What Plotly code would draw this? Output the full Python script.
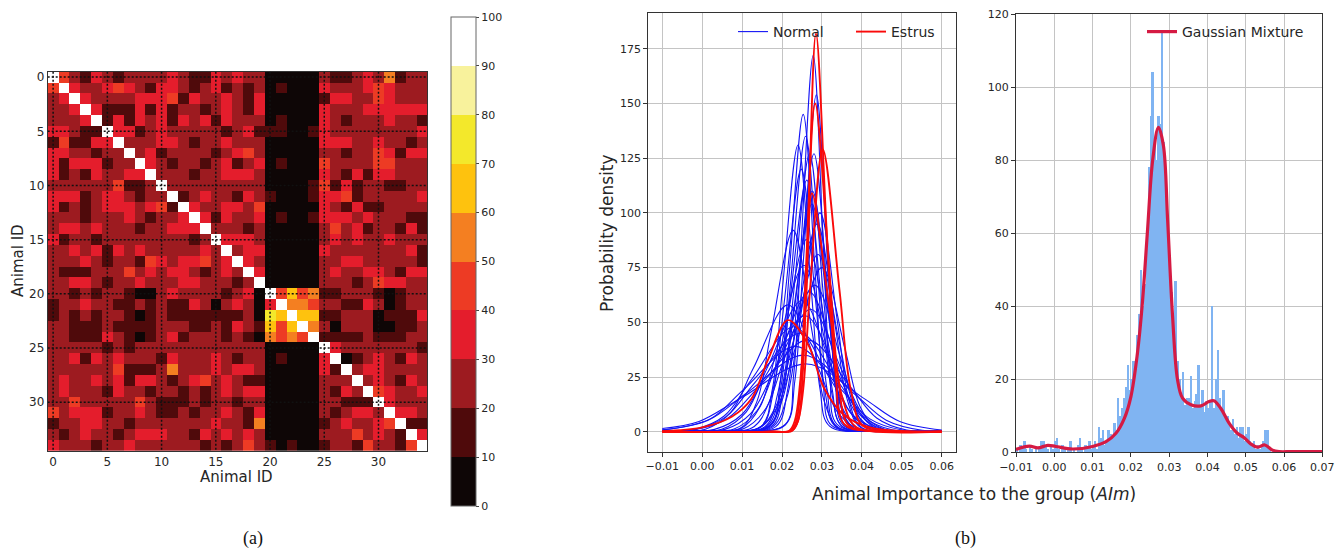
import plotly.graph_objects as go

W, H = 1341, 551
FONT = "DejaVu Sans"
INK = "#262626"

# ---------------- (a) pairwise similarity between animals ----------------
# Each digit is the decile band of one cell: 0 -> 0-10 %, 1 -> 10-20 %, ... 9 -> 90-100 %.
ANIMAL_IDS = list(range(35))
SIMILARITY_BANDS = [
    "94213212222321132322" "00000" "2112325122",
    "49322343213321231212" "01000" "3222343222",
    "23932222333413223213" "00000" "1332243222",
    "22393111313122123213" "00000" "3222333333",
    "22239131323132313222" "01000" "3212223221",
    "33211933123222221231" "11001" "3222222223",
    "14113392223321223222" "00000" "3332232212",
    "33221229231222212342" "00000" "2212243133",
    "31333122932122123123" "01000" "4222244222",
    "31213223392221223332" "00000" "3213133222",
    "22222241129222222222" "00001" "4131221122",
    "33312332122912322132" "10001" "3341222223",
    "31212333234193223324" "00000" "3213112222",
    "22212223212239313223" "01001" "3332322211",
    "23323222122333922212" "00000" "2423122131",
    "31221222222221293332" "00000" "2323223222",
    "22323132322222329233" "00000" "3222222231",
    "22232122143233423932" "00000" "2233222221",
    "21112224232332123293" "00000" "2322332133",
    "22332122322233222129" "00000" "2221243322",
    "22121221002322221230" "94645" "1122210122",
    "12232211212113202320" "39554" "2211320122",
    "12121221012111111120" "76966" "1122201113",
    "22111211112221121321" "64695" "2022200112",
    "22111321012312221210" "54549" "1111211122",
    "22222121222222222222" "00000" "9322222221",
    "22313232221322232122" "01000" "3901232132",
    "22222241112522232332" "00000" "3192332222",
    "23223231332123423211" "00000" "2229232132",
    "23222132212212123233" "00000" "2132943223",
    "22422222421112122122" "00000" "2211193222",
    "42333122321121223213" "00000" "2123329332",
    "12233221222222232215" "00000" "1232234911",
    "21232212333221323232" "00000" "2224232193",
    "32221223222222121242" "10100" "1221422149",
]
BAND_EDGES = [0, 10, 20, 30, 40, 50, 60, 70, 80, 90, 100]
BAND_COLORS = ["#0e0606", "#4f0a0b", "#9d1b20", "#e41d2c", "#ed3b24",
               "#f47f21", "#fec20e", "#f3e82b", "#f8f29c", "#ffffff"]
ID_TICKS = [0, 5, 10, 15, 20, 25, 30]

# ---------------- (b) AIm densities per animal ----------------
# each curve: (x points, density points)
NORMAL_CURVES = [
    ([-0.01, 0.008, 0.0208, 0.0229, 0.0248, 0.0278, 0.0303, 0.0320, 0.0338, 0.045, 0.06],
     [0.1, 0.3, 3.4, 25.8, 86, 172, 86, 25.8, 3.4, 0.3, 0.1]),
    ([-0.01, 0.008, 0.0208, 0.0232, 0.0253, 0.0286, 0.0314, 0.0333, 0.0353, 0.045, 0.06],
     [0.1, 0.3, 3.1, 23.1, 77, 154, 77, 23.1, 3.1, 0.3, 0.1]),
    ([-0.01, 0.005, 0.0170, 0.0195, 0.0218, 0.0253, 0.0283, 0.0303, 0.0324, 0.045, 0.06],
     [0.1, 0.4, 2.9, 21.8, 72.5, 145, 72.5, 21.8, 2.9, 0.3, 0.1]),
    ([-0.01, 0.005, 0.0170, 0.0197, 0.0221, 0.0259, 0.0291, 0.0312, 0.0336, 0.045, 0.06],
     [0.1, 0.4, 2.7, 20.3, 67.5, 135, 67.5, 20.3, 2.7, 0.3, 0.1]),
    ([-0.01, 0.004, 0.0148, 0.0176, 0.0201, 0.0240, 0.0273, 0.0295, 0.0319, 0.045, 0.06],
     [0.1, 0.4, 2.6, 19.7, 65.5, 131, 65.5, 19.7, 2.6, 0.3, 0.1]),
    ([-0.01, 0.005, 0.0174, 0.0203, 0.0229, 0.0269, 0.0303, 0.0326, 0.0350, 0.047, 0.06],
     [0.1, 0.4, 2.5, 19.1, 63.5, 127, 63.5, 19.1, 2.5, 0.3, 0.1]),
    ([-0.01, 0.006, 0.0185, 0.0214, 0.0240, 0.0280, 0.0314, 0.0337, 0.0361, 0.047, 0.06],
     [0.1, 0.4, 2.5, 19.1, 63.5, 127, 63.5, 19.1, 2.5, 0.3, 0.1]),
    ([-0.01, 0.004, 0.0148, 0.0178, 0.0206, 0.0248, 0.0284, 0.0308, 0.0334, 0.045, 0.06],
     [0.1, 0.4, 2.4, 18, 60, 120, 60, 18, 2.4, 0.3, 0.1]),
    ([-0.01, 0.004, 0.0157, 0.0189, 0.0218, 0.0262, 0.0300, 0.0325, 0.0352, 0.047, 0.06],
     [0.1, 0.4, 2.3, 17.3, 57.5, 115, 57.5, 17.3, 2.3, 0.3, 0.1]),
    ([-0.01, 0.005, 0.0167, 0.0200, 0.0230, 0.0276, 0.0316, 0.0342, 0.0370, 0.047, 0.06],
     [0.1, 0.4, 2.2, 16.5, 55, 110, 55, 16.5, 2.2, 0.3, 0.1]),
    ([-0.01, 0.004, 0.0159, 0.0194, 0.0226, 0.0275, 0.0317, 0.0344, 0.0375, 0.048, 0.06],
     [0.1, 0.4, 2.1, 15.6, 52, 104, 52, 15.6, 2.1, 0.3, 0.1]),
    ([-0.01, 0.005, 0.0175, 0.0211, 0.0244, 0.0295, 0.0339, 0.0367, 0.0399, 0.05, 0.06],
     [0.1, 0.4, 2, 15, 50, 100, 50, 15, 2, 0.3, 0.1]),
    ([-0.01, 0.004, 0.0161, 0.0200, 0.0235, 0.0288, 0.0334, 0.0364, 0.0397, 0.05, 0.06],
     [0.1, 0.4, 1.9, 14.3, 47.5, 95, 47.5, 14.3, 1.9, 0.3, 0.1]),
    ([-0.01, 0.0, 0.0097, 0.0137, 0.0173, 0.0228, 0.0275, 0.0306, 0.0341, 0.045, 0.06],
     [0.2, 0.5, 1.8, 13.8, 46, 92, 46, 13.8, 1.8, 0.3, 0.1]),
    ([-0.01, 0.002, 0.0125, 0.0167, 0.0204, 0.0262, 0.0312, 0.0344, 0.0380, 0.048, 0.06],
     [0.2, 0.5, 1.8, 13.2, 44, 88, 44, 13.2, 1.8, 0.3, 0.1]),
    ([-0.01, 0.003, 0.0141, 0.0186, 0.0227, 0.0290, 0.0344, 0.0379, 0.0418, 0.05, 0.06],
     [0.2, 0.5, 1.6, 12.2, 40.5, 81, 40.5, 12.2, 1.6, 0.4, 0.2]),
    ([-0.01, 0.0, 0.0097, 0.0145, 0.0188, 0.0255, 0.0312, 0.0350, 0.0391, 0.05, 0.06],
     [0.2, 0.5, 1.5, 11.4, 38, 76, 38, 11.4, 1.5, 0.4, 0.2]),
    ([-0.01, 0.003, 0.0140, 0.0188, 0.0232, 0.0300, 0.0358, 0.0396, 0.0438, 0.052, 0.06],
     [0.2, 0.5, 1.5, 11.3, 37.5, 75, 37.5, 11.3, 1.5, 0.4, 0.2]),
    ([-0.01, 0.0, 0.0102, 0.0157, 0.0206, 0.0282, 0.0347, 0.0390, 0.0437, 0.052, 0.06],
     [0.2, 0.5, 1.3, 10, 33.5, 67, 33.5, 10, 1.3, 0.4, 0.2]),
    ([-0.01, -0.002, 0.0080, 0.0137, 0.0189, 0.0268, 0.0336, 0.0381, 0.0430, 0.052, 0.06],
     [0.2, 0.5, 1.3, 9.6, 32, 64, 32, 9.6, 1.3, 0.4, 0.2]),
    ([-0.01, 0.0049, 0.0110, 0.0165, 0.0250, 0.0323, 0.0370, 0.0423, 0.052, 0.06],
     [0.4, 1.2, 9, 30, 60, 30, 9, 1.2, 0.4, 0.2]),
    ([-0.01, 0.0008, 0.0071, 0.0128, 0.0215, 0.0291, 0.0340, 0.0394, 0.05, 0.06],
     [0.4, 1.2, 8.7, 29, 58, 29, 8.7, 1.2, 0.3, 0.1]),
    ([-0.01, 0.0057, 0.0122, 0.0181, 0.0272, 0.0350, 0.0401, 0.0457, 0.06],
     [0.4, 1.1, 8.4, 28, 56, 28, 8.4, 1.1, 0.3]),
    ([-0.01, 0.0031, 0.0100, 0.0162, 0.0258, 0.0340, 0.0394, 0.0453, 0.06],
     [0.4, 1.1, 8, 26.5, 53, 26.5, 8, 1.1, 0.3]),
    ([-0.01, -0.0021, 0.0055, 0.0124, 0.0230, 0.0321, 0.0380, 0.0446, 0.06],
     [0.5, 1.0, 7.2, 24, 48, 24, 7.2, 1.0, 0.3]),
    ([-0.01, -0.0023, 0.0059, 0.0132, 0.0245, 0.0342, 0.0405, 0.0475, 0.06],
     [0.5, 0.9, 6.8, 22.5, 45, 22.5, 6.8, 0.9, 0.4]),
    ([-0.01, -0.0022, 0.0065, 0.0144, 0.0265, 0.0369, 0.0437, 0.0512, 0.06],
     [0.5, 0.8, 6.3, 21, 42, 21, 6.3, 0.8, 0.4]),
    ([-0.01, 0.0020, 0.0105, 0.0235, 0.0347, 0.0420, 0.0501, 0.06],
     [0.8, 5.9, 19.5, 39, 19.5, 5.9, 0.8, 0.4]),
    ([-0.01, 0.0015, 0.0110, 0.0255, 0.0380, 0.0461, 0.0551, 0.06],
     [0.9, 5.3, 17.5, 35, 17.5, 5.3, 0.7, 0.5]),
    ([-0.01, -0.0008, 0.0098, 0.0262, 0.0403, 0.0495, 0.06],
     [1.5, 4.7, 15.5, 31, 15.5, 4.7, 0.8]),
]
ESTRUS_CURVES = [
    ([-0.01, 0.018, 0.0225, 0.0240, 0.0252, 0.0265, 0.0285, 0.0312, 0.0334, 0.0355, 0.042, 0.06],
     [0, 0, 0.5, 5, 27, 91, 182, 91, 27, 3.6, 0.3, 0]),
    ([-0.01, 0.018, 0.0222, 0.0236, 0.0247, 0.0260, 0.0283, 0.0318, 0.0342, 0.0367, 0.045, 0.06],
     [0, 0, 0.5, 5, 22.5, 75, 150, 75, 22.5, 3, 0.3, 0]),
    ([-0.01, 0.018, 0.0225, 0.0240, 0.0253, 0.0270, 0.0302, 0.0344, 0.0372, 0.0403, 0.048, 0.06],
     [0, 0, 0.5, 5, 19.4, 64.5, 129, 64.5, 19.4, 2.6, 0.3, 0]),
    ([-0.01, 0.017, 0.0218, 0.0232, 0.0245, 0.0260, 0.0275, 0.0320, 0.0350, 0.0385, 0.047, 0.06],
     [0, 0, 0.5, 5, 22, 60, 109, 54.5, 16.4, 2.2, 0.3, 0]),
    ([-0.01, 0.0, 0.0075, 0.0123, 0.0165, 0.0215, 0.0265, 0.0305, 0.0353, 0.042, 0.06],
     [0.3, 2, 7, 15, 33, 51, 40, 20, 8, 2, 0.2]),
]
DENSITY_X_TICKS = [-0.01, 0.0, 0.01, 0.02, 0.03, 0.04, 0.05, 0.06]
DENSITY_Y_TICKS = [0, 25, 50, 75, 100, 125, 150, 175]

# ---------------- pooled AIm histogram with mixture fit ----------------
HIST_START = -0.010
HIST_WIDTH = 0.0005
HIST_COUNTS = [
    1, 0, 2, 1, 3, 1, 0, 2, 1, 0,
    1, 0, 1, 3, 3, 2, 1, 0, 2, 1,
    3, 4, 1, 0, 2, 1, 0, 1, 3, 0,
    1, 0, 2, 4, 1, 0, 2, 1, 3, 1,
    2, 3, 1, 7, 4, 6, 2, 3, 6, 5,
    4, 8, 6, 15, 10, 12, 15, 18, 24, 17,
    20, 25, 24, 32, 38, 50, 40, 46, 58, 78,
    92, 104, 85, 80, 92, 90, 115, 85, 75, 65,
    52, 44, 38, 47, 25, 20, 16, 22, 13, 15,
    15, 21, 12, 14, 16, 24, 13, 17, 11, 14,
    12, 14, 40, 12, 20, 28, 15, 12, 17, 9,
    10, 8, 6, 9, 5, 7, 4, 7, 7, 3,
    5, 7, 3, 2, 3, 1, 2, 1, 2, 3,
    6, 6, 1, 0, 1, 0,
]
MIXTURE_X = [-0.010, -0.0065, -0.0043, -0.0017, 0.0004, 0.0048, 0.010, 0.0135, 0.0161,
             0.0183, 0.020, 0.0217, 0.023, 0.0243, 0.0257, 0.0272, 0.0285, 0.0296, 0.0309,
             0.0322, 0.0335, 0.0357, 0.0383, 0.0404, 0.0417, 0.0435, 0.0457, 0.0478,
             0.0496, 0.0513, 0.053, 0.055, 0.057, 0.0587, 0.062, 0.070]
MIXTURE_Y = [0.8, 1.7, 1.2, 1.9, 1.6, 0.9, 1.6, 2.9, 5.2,
             9.3, 15.2, 27, 40.8, 60, 80, 89, 84, 63.6, 37.1,
             19.8, 14.8, 13, 12.7, 13.9, 14.1, 12, 7.9, 5.2,
             4, 2.3, 1.4, 2, 0.6, 0.2, 0.2, 0.2]
HIST_X_TICKS = [-0.01, 0.0, 0.01, 0.02, 0.03, 0.04, 0.05, 0.06, 0.07]
HIST_Y_TICKS = [0, 20, 40, 60, 80, 100, 120]


def px_x(p):
    return p / W


def px_y(p):
    return 1 - p / H


fig = go.Figure()

# heatmap with a stepped colour scale
z = [[int(c) * 10 + 5 for c in row] for row in SIMILARITY_BANDS]
scale = []
for i, col in enumerate(BAND_COLORS):
    scale += [[BAND_EDGES[i] / 100, col], [BAND_EDGES[i + 1] / 100, col]]

fig.add_trace(go.Heatmap(
    z=z, x=ANIMAL_IDS, y=ANIMAL_IDS, zmin=0, zmax=100, colorscale=scale,
    xaxis="x", yaxis="y", hoverinfo="skip",
    colorbar=dict(
        x=px_x(451), xanchor="left", y=px_y(261.5), yanchor="middle",
        len=489 / H, lenmode="fraction", thickness=25, thicknessmode="pixels",
        xpad=0, ypad=0, outlinewidth=1, outlinecolor="#666",
        tickvals=BAND_EDGES, ticks="outside", ticklen=3, tickcolor="#444",
        tickfont=dict(family=FONT, size=11, color=INK),
    ),
))

# per-animal density curves
for i, (xs, ys) in enumerate(NORMAL_CURVES):
    fig.add_trace(go.Scatter(
        x=xs, y=ys, mode="lines", xaxis="x2", yaxis="y2",
        line=dict(color="rgb(20,20,245)", width=1.1, shape="spline"),
        name="Normal", legendgroup="normal", showlegend=(i == 0), legend="legend",
        hoverinfo="skip",
    ))
for i, (xs, ys) in enumerate(ESTRUS_CURVES):
    fig.add_trace(go.Scatter(
        x=xs, y=ys, mode="lines", xaxis="x2", yaxis="y2",
        line=dict(color="rgb(250,10,10)", width=1.9, shape="spline"),
        name="Estrus", legendgroup="estrus", showlegend=(i == 0), legend="legend",
        hoverinfo="skip",
    ))

# histogram + mixture fit
centers = [HIST_START + HIST_WIDTH * (k + 0.5) for k in range(len(HIST_COUNTS))]
fig.add_trace(go.Bar(
    x=centers, y=HIST_COUNTS, width=HIST_WIDTH, xaxis="x3", yaxis="y3",
    marker=dict(color="#80b4f2", line=dict(width=0)), showlegend=False,
    hoverinfo="skip",
))
fig.add_trace(go.Scatter(
    x=MIXTURE_X, y=MIXTURE_Y, mode="lines", xaxis="x3", yaxis="y3",
    line=dict(color="#d51a43", width=3.2, shape="spline"),
    name="Gaussian Mixture", legend="legend2", hoverinfo="skip",
))

# dotted guides on the heatmap at each labelled animal
shapes = []
for t in ID_TICKS:
    shapes.append(dict(type="line", xref="x", yref="y", x0=t, x1=t, y0=-0.5, y1=34.5,
                       line=dict(color="#111", width=1.5, dash="2px,2px"), layer="above"))
    shapes.append(dict(type="line", xref="x", yref="y", x0=-0.5, x1=34.5, y0=t, y1=t,
                       line=dict(color="#111", width=1.5, dash="2px,2px"), layer="above"))

frame = dict(showline=True, mirror=True, linecolor="#333", linewidth=1, zeroline=False,
             automargin=False)
grid = dict(showgrid=True, gridcolor="#c4c4c4", gridwidth=1.2)
tickf = dict(family=FONT, size=11, color=INK)


def label(text, x, y, size, angle=0, family=FONT, color=INK):
    return dict(text=text, x=px_x(x), y=px_y(y), xref="paper", yref="paper",
                xanchor="center", yanchor="middle", showarrow=False, textangle=angle,
                font=dict(family=family, size=size, color=color))


fig.update_layout(
    width=W, height=H, margin=dict(l=0, r=0, t=0, b=0, pad=0, autoexpand=False),
    paper_bgcolor="white", plot_bgcolor="white",
    font=dict(family=FONT, color=INK),
    shapes=shapes, bargap=0,
    xaxis=dict(domain=[px_x(47.7), px_x(427.3)], anchor="y", range=[-0.5, 34.5],
               tickvals=ID_TICKS, ticks="", showgrid=False,
               tickfont=dict(family=FONT, size=12, color=INK), **frame),
    yaxis=dict(domain=[px_y(451), px_y(71.7)], anchor="x", range=[34.5, -0.5],
               tickvals=ID_TICKS, ticks="", showgrid=False,
               tickfont=dict(family=FONT, size=12, color=INK), **frame),
    xaxis2=dict(domain=[px_x(648.3), px_x(955.7)], anchor="y2", range=[-0.0135, 0.0635],
                tickvals=DENSITY_X_TICKS, tickformat=".2f", ticks="outside", ticklen=4,
                tickcolor="#333", tickfont=tickf, **grid, **frame),
    yaxis2=dict(domain=[px_y(451.7), px_y(13.3)], anchor="x2", range=[-9.1, 191.2],
                tickvals=DENSITY_Y_TICKS, ticks="outside", ticklen=4, tickcolor="#333",
                tickfont=tickf, **grid, **frame),
    xaxis3=dict(domain=[px_x(1016), px_x(1322.3)], anchor="y3", range=[-0.01, 0.07],
                tickvals=HIST_X_TICKS, tickformat=".2f", ticks="outside", ticklen=4,
                tickcolor="#333", tickfont=tickf, **grid, **frame),
    yaxis3=dict(domain=[px_y(452.3), px_y(14)], anchor="x3", range=[0, 120],
                tickvals=HIST_Y_TICKS, ticks="outside", ticklen=4, tickcolor="#333",
                tickfont=tickf, **grid, **frame),
    legend=dict(x=px_x(733), y=px_y(16), xanchor="left", yanchor="top",
                orientation="h", bgcolor="rgba(0,0,0,0)", itemwidth=30,
                entrywidth=73, entrywidthmode="pixels",
                font=dict(family=FONT, size=14, color=INK)),
    legend2=dict(x=px_x(1142), y=px_y(16), xanchor="left", yanchor="top",
                 orientation="h", bgcolor="rgba(0,0,0,0)", itemwidth=30,
                 font=dict(family=FONT, size=14, color=INK)),
    annotations=[
        label("Animal ID", 236, 477, 15),
        label("Animal ID", 18, 261, 15, angle=-90),
        label("Probability density", 607, 233, 17, angle=-90),
        label("Animal Importance to the group (<i>AIm</i>)", 974, 494, 17),
        label("(a)", 253, 538, 18, family="Liberation Serif", color="#111"),
        label("(b)", 965, 538, 18, family="Liberation Serif", color="#111"),
    ],
)

fig.write_html("out.html")
